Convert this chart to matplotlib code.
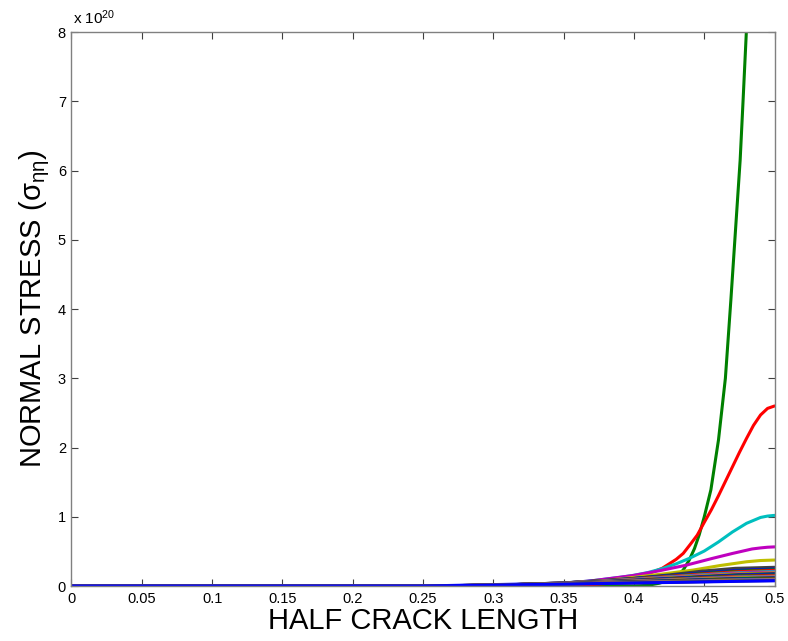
import matplotlib
matplotlib.use("Agg")
import matplotlib.pyplot as plt

plt.rcParams['font.family'] = ['Liberation Sans', 'DejaVu Sans']
plt.rcParams['mathtext.fontset'] = 'custom'
plt.rcParams['mathtext.rm'] = 'Liberation Sans'
plt.rcParams['mathtext.it'] = 'Liberation Sans'

# Normal stress along the half crack length (values in units of 1e20)
x_green = [0.0, 0.30, 0.38, 0.400, 0.410, 0.418, 0.425, 0.430, 0.435, 0.4393, 0.443,
           0.4464, 0.450, 0.4547, 0.4601, 0.465, 0.4689, 0.4736, 0.4755, 0.4776,
           0.4799, 0.485, 0.49]
y_green = [0.0, 0.0, 0.0, 0.0, 0.01, 0.04, 0.085, 0.135, 0.23, 0.375, 0.54,
           0.74, 1.0, 1.39, 2.11, 3.0, 4.13, 5.57, 6.15, 7.02,
           8.0, 10.5, 13.5]

x_red = [0.0, 0.30, 0.33, 0.35, 0.37, 0.38, 0.39, 0.40, 0.41, 0.42, 0.43, 0.435,
         0.44, 0.445, 0.45, 0.455, 0.46, 0.465, 0.47, 0.475, 0.48, 0.485, 0.49,
         0.495, 0.50]
y_red = [0.0, 0.0, 0.002, 0.008, 0.022, 0.035, 0.062, 0.11, 0.175, 0.255, 0.385, 0.47,
         0.60, 0.735, 0.92, 1.10, 1.30, 1.51, 1.72, 1.93, 2.13, 2.32, 2.47,
         2.565, 2.60]

x_cyan = [0.0, 0.28, 0.32, 0.35, 0.37, 0.38, 0.39, 0.40, 0.41, 0.42, 0.43, 0.44,
          0.45, 0.46, 0.47, 0.48, 0.49, 0.495, 0.50]
y_cyan = [0.0, 0.0, 0.012, 0.04, 0.075, 0.10, 0.125, 0.155, 0.195, 0.25, 0.32, 0.405,
          0.505, 0.635, 0.78, 0.905, 0.99, 1.01, 1.02]

x_magenta = [0.0, 0.28, 0.32, 0.35, 0.37, 0.399, 0.418, 0.437, 0.456, 0.470, 0.484,
             0.49, 0.495, 0.50]
y_magenta = [0.0, 0.0, 0.012, 0.04, 0.075, 0.15, 0.22, 0.30, 0.40, 0.47, 0.535,
             0.55, 0.56, 0.565]

x_yellow = [0.0, 0.28, 0.32, 0.35, 0.38, 0.40, 0.423, 0.442, 0.461, 0.480, 0.490, 0.50]
y_yellow = [0.0, 0.0, 0.012, 0.038, 0.08, 0.125, 0.18, 0.23, 0.295, 0.35, 0.368, 0.375]

x_gray = [0.0, 0.28, 0.32, 0.35, 0.38, 0.40, 0.425, 0.4485, 0.472, 0.50]
y_gray = [0.0, 0.0, 0.012, 0.036, 0.075, 0.11, 0.16, 0.215, 0.255, 0.27]

# Remaining lower-order terms share one sampling grid
x_band = [0.0, 0.25, 0.30, 0.35, 0.375, 0.40, 0.425, 0.45, 0.475, 0.50]
y_blue_first = [0, 0, 0.020, 0.040, 0.050, 0.060, 0.070, 0.080, 0.090, 0.100]
y_band = [
    [0, 0, 0.010, 0.045, 0.075, 0.110, 0.150, 0.190, 0.225, 0.245],
    [0, 0, 0.010, 0.045, 0.073, 0.106, 0.144, 0.182, 0.215, 0.235],
    [0, 0, 0.010, 0.044, 0.071, 0.102, 0.138, 0.174, 0.206, 0.225],
    [0, 0, 0.010, 0.043, 0.068, 0.097, 0.130, 0.163, 0.193, 0.210],
    [0, 0, 0.010, 0.042, 0.066, 0.093, 0.124, 0.155, 0.184, 0.200],
    [0, 0, 0.010, 0.041, 0.064, 0.089, 0.118, 0.148, 0.175, 0.190],
    [0, 0, 0.010, 0.040, 0.062, 0.085, 0.112, 0.140, 0.166, 0.180],
    [0, 0, 0.011, 0.040, 0.060, 0.082, 0.106, 0.132, 0.157, 0.170],
    [0, 0, 0.011, 0.039, 0.058, 0.078, 0.100, 0.125, 0.148, 0.160],
    [0, 0, 0.011, 0.038, 0.056, 0.075, 0.095, 0.117, 0.139, 0.150],
    [0, 0, 0.011, 0.037, 0.054, 0.071, 0.090, 0.110, 0.130, 0.140],
    [0, 0, 0.011, 0.036, 0.052, 0.068, 0.086, 0.105, 0.125, 0.135],
    [0, 0, 0.011, 0.035, 0.050, 0.066, 0.083, 0.101, 0.120, 0.130],
    [0, 0, 0.012, 0.034, 0.048, 0.063, 0.078, 0.094, 0.111, 0.120],
    [0, 0, 0.012, 0.033, 0.046, 0.060, 0.075, 0.090, 0.106, 0.115],
    [0, 0, 0.012, 0.032, 0.045, 0.058, 0.072, 0.086, 0.101, 0.110],
    [0, 0, 0.012, 0.031, 0.043, 0.055, 0.067, 0.079, 0.092, 0.100],
    [0, 0, 0.012, 0.030, 0.041, 0.052, 0.063, 0.075, 0.088, 0.095],
    [0, 0, 0.012, 0.029, 0.040, 0.050, 0.060, 0.071, 0.083, 0.090],
    [0, 0, 0.013, 0.028, 0.038, 0.047, 0.057, 0.067, 0.078, 0.085],
    [0, 0, 0.013, 0.027, 0.036, 0.045, 0.054, 0.063, 0.073, 0.080],
    [0, 0, 0.013, 0.026, 0.035, 0.043, 0.051, 0.059, 0.068, 0.075],
]

x_ticks = [0, 0.05, 0.1, 0.15, 0.2, 0.25, 0.3, 0.35, 0.4, 0.45, 0.5]
x_tick_labels = ['0', '0.05', '0.1', '0.15', '0.2', '0.25', '0.3', '0.35', '0.4', '0.45', '0.5']
y_ticks = [0, 1, 2, 3, 4, 5, 6, 7, 8]
y_tick_labels = ['0', '1', '2', '3', '4', '5', '6', '7', '8']

color_order = [(0, 0, 1), (0, 0.5, 0), (1, 0, 0), (0, 0.75, 0.75),
               (0.75, 0, 0.75), (0.75, 0.75, 0), (0.25, 0.25, 0.25)]

fig = plt.figure(figsize=(7.88, 6.41), dpi=100)
ax = fig.add_axes([0.0907, 0.0858, 0.8923, 0.8642])

curves = [(x_band, y_blue_first), (x_green, y_green), (x_red, y_red),
          (x_cyan, y_cyan), (x_magenta, y_magenta), (x_yellow, y_yellow),
          (x_gray, y_gray)]
curves += [(x_band, yb) for yb in y_band]

for i, (xs, ys) in enumerate(curves):
    ax.plot(xs, ys, color=color_order[i % 7], lw=2.2,
            solid_joinstyle='round', solid_capstyle='round')

ax.set_xlim(0, 0.5)
ax.set_ylim(0, 8)
ax.set_xticks(x_ticks)
ax.set_xticklabels(x_tick_labels)
ax.set_yticks(y_ticks)
ax.set_yticklabels(y_tick_labels)

edge = '#808080'
for s in ax.spines.values():
    s.set_color(edge)
    s.set_linewidth(1.0)
ax.tick_params(direction='in', length=5, width=0.8, color='#404040',
               top=True, right=True, labelsize=10.5, pad=4, labelcolor='black')

ax.set_xlabel('HALF CRACK LENGTH', fontsize=21, labelpad=1)
ax.set_ylabel(r'NORMAL STRESS (σ$_{\mathrm{ηη}}$)', fontsize=21, labelpad=4)
ax.text(0.002, 1.009, r'x 10$^{20}$', transform=ax.transAxes, fontsize=11,
        ha='left', va='bottom')

fig.savefig('out.png', dpi=100)
